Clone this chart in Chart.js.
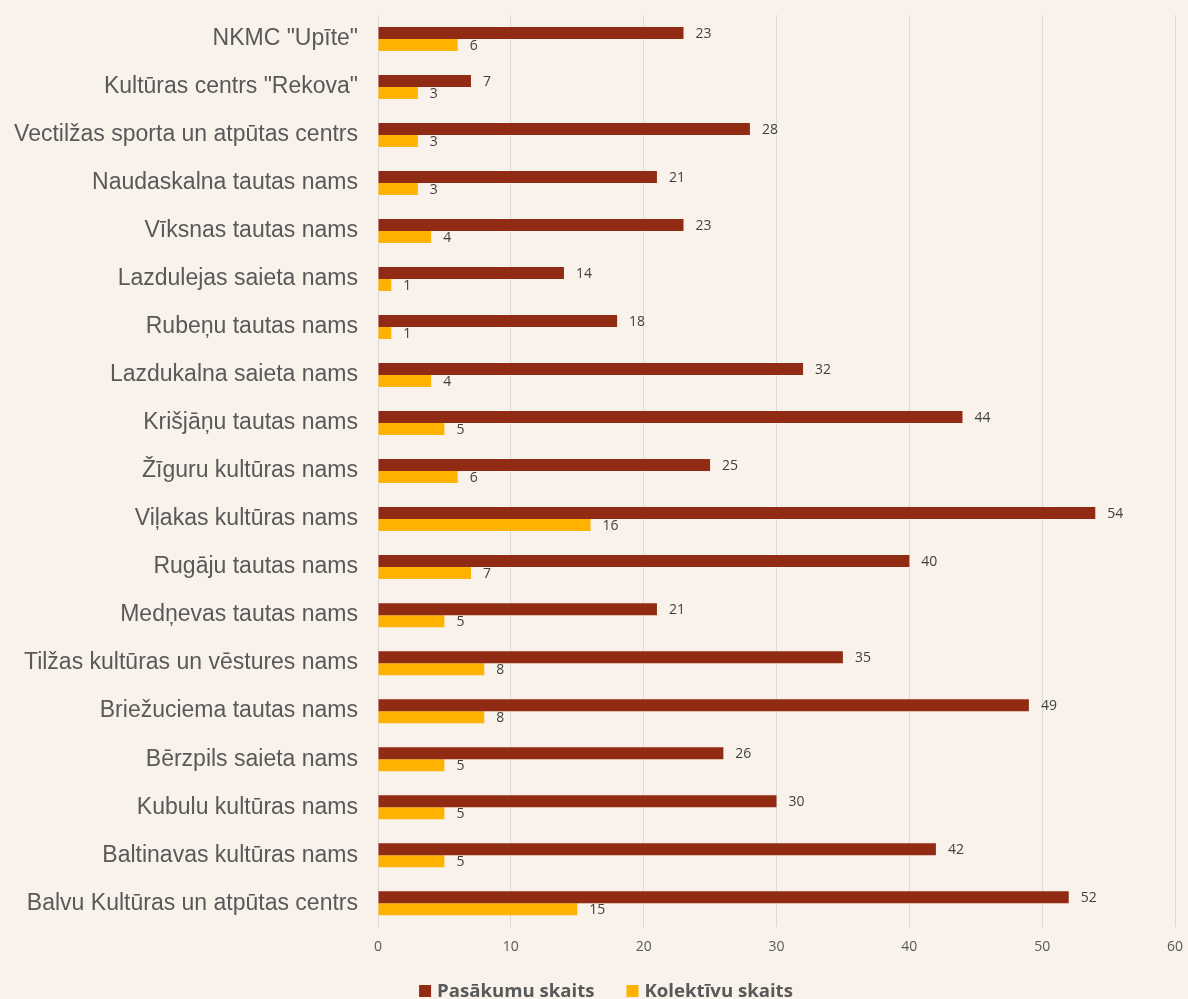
<!DOCTYPE html>
<html>
<head>
<meta charset="utf-8">
<script src="https://cdn.jsdelivr.net/npm/chart.js@4"></script>
<style>
html,body{margin:0;padding:0;background:#F9F2EB;overflow:hidden;}
#wrap{position:relative;width:1188px;height:999px;}
</style>
</head>
<body>
<div id="wrap"><canvas id="c"></canvas></div>
<script>
const categories = [
  'NKMC "Upīte"',
  'Kultūras centrs "Rekova"',
  'Vectilžas sporta un atpūtas centrs',
  'Naudaskalna tautas nams',
  'Vīksnas tautas nams',
  'Lazdulejas saieta nams',
  'Rubeņu tautas nams',
  'Lazdukalna saieta nams',
  'Krišjāņu tautas nams',
  'Žīguru kultūras nams',
  'Viļakas kultūras nams',
  'Rugāju tautas nams',
  'Medņevas tautas nams',
  'Tilžas kultūras un vēstures nams',
  'Briežuciema tautas nams',
  'Bērzpils saieta nams',
  'Kubulu kultūras nams',
  'Baltinavas kultūras nams',
  'Balvu Kultūras un atpūtas centrs'
];
const pasakumuSkaits = [23, 7, 28, 21, 23, 14, 18, 32, 44, 25, 54, 40, 21, 35, 49, 26, 30, 42, 52];
const kolektivuSkaits = [6, 3, 3, 3, 4, 1, 1, 4, 5, 6, 16, 7, 5, 8, 8, 5, 5, 5, 15];
const seriesNames = ['Pasākumu skaits', 'Kolektīvu skaits'];
const seriesColors = ['#922B14', '#FFB300'];
const xTicks = [0, 10, 20, 30, 40, 50, 60];

const valueLabels = {
  id: 'valueLabels',
  afterDatasetsDraw(chart) {
    const ctx = chart.ctx;
    ctx.save();
    ctx.font = '14px "Open Sans", sans-serif';
    ctx.fillStyle = '#404040';
    ctx.textBaseline = 'middle';
    ctx.textAlign = 'left';
    chart.data.datasets.forEach((ds, i) => {
      const meta = chart.getDatasetMeta(i);
      meta.data.forEach((bar, j) => {
        ctx.fillText(String(ds.data[j]), bar.x + 12, bar.y + 1);
      });
    });
    ctx.restore();
  }
};

const bottomLegend = {
  id: 'bottomLegend',
  afterDraw(chart) {
    const ctx = chart.ctx;
    ctx.save();
    ctx.font = 'bold 18.6px "Open Sans", sans-serif';
    const box = 12, boxGap = 6, itemGap = 32;
    const items = chart.data.datasets.map(ds => ({
      text: ds.label, color: ds.backgroundColor, w: ctx.measureText(ds.label).width
    }));
    const total = items.reduce((s, it) => s + box + boxGap + it.w, 0) + itemGap * (items.length - 1);
    let x = chart.width / 2 + 12 - total / 2;
    const baseline = 997;
    ctx.textBaseline = 'alphabetic';
    ctx.textAlign = 'left';
    items.forEach(it => {
      ctx.fillStyle = it.color;
      ctx.fillRect(x, baseline - 12, box, box);
      ctx.fillStyle = '#595959';
      ctx.fillText(it.text, x + box + boxGap, baseline);
      x += box + boxGap + it.w + itemGap;
    });
    ctx.restore();
  }
};

new Chart(document.getElementById('c'), {
  type: 'bar',
  data: {
    labels: categories,
    datasets: [
      { label: seriesNames[0], data: pasakumuSkaits, backgroundColor: seriesColors[0], borderWidth: 0 },
      { label: seriesNames[1], data: kolektivuSkaits, backgroundColor: seriesColors[1], borderWidth: 0 }
    ]
  },
  options: {
    indexAxis: 'y',
    responsive: true,
    maintainAspectRatio: false,
    animation: false,
    datasets: { bar: { categoryPercentage: 0.5, barPercentage: 1.0 } },
    layout: { padding: { top: 15, right: 13, left: 0, bottom: 33 } },
    scales: {
      x: {
        min: 0, max: 60,
        afterBuildTicks(axis) { axis.ticks = xTicks.map(v => ({ value: v })); },
        afterFit(axis) { axis.paddingLeft = 0; axis.paddingRight = 0; },
        grid: { color: '#D9D9D9', lineWidth: 1, drawTicks: false },
        border: { display: false },
        ticks: { color: '#595959', font: { family: '"Open Sans", sans-serif', size: 14 }, padding: 11 }
      },
      y: {
        grid: { display: false },
        border: { display: false },
        afterFit(axis) { axis.width = 378; axis.paddingTop = 0; axis.paddingBottom = 0; },
        ticks: { color: '#595959', font: { family: '"Liberation Sans", Arial, sans-serif', size: 23 }, padding: 12 }
      }
    },
    plugins: {
      legend: { display: false },
      tooltip: { enabled: false }
    }
  },
  plugins: [valueLabels, bottomLegend]
});
</script>
</body>
</html>
